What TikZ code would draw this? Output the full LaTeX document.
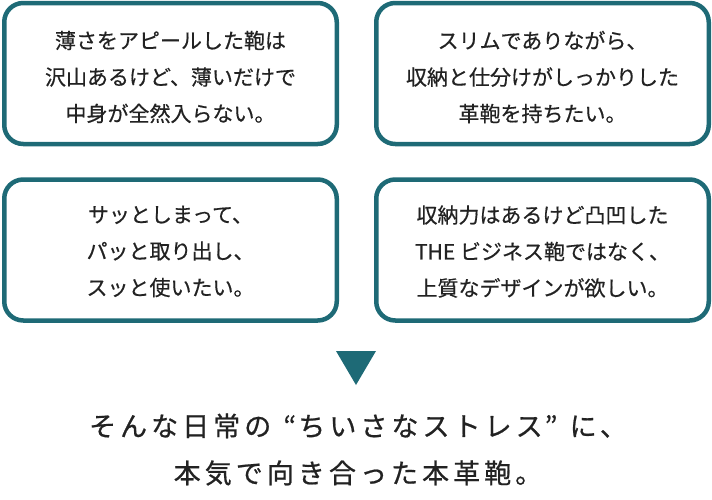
\documentclass[tikz,border=0pt]{standalone}
\usepackage{fontspec}
\setmainfont{Noto Sans CJK JP}
\newfontfamily\boxfont[FakeBold=0.5]{Noto Sans CJK JP}
\newfontfamily\leadfont[LetterSpace=15,FakeBold=0.7]{Noto Sans CJK JP}
\definecolor{tealline}{RGB}{30,106,118}
\definecolor{ink}{RGB}{34,34,34}
\newcommand\openq{\makebox[27pt][r]{“\hspace{2pt}}}
\newcommand\closeq{\makebox[27pt][l]{\hspace{2pt}”}}
\begin{document}
\begin{tikzpicture}[x=1pt,y=-1pt,
  card/.style={draw=tealline, line width=4.5pt, rounded corners=19pt,
    minimum width=332.5pt, minimum height=141pt, inner sep=0pt},
  cardtext/.style={align=center, text=ink, inner sep=0pt,
    font=\boxfont\fontsize{21pt}{36.5pt}\selectfont},
  lead/.style={align=center, text=ink, inner sep=0pt,
    font=\leadfont\fontsize{27pt}{47pt}\selectfont}]
\useasboundingbox (0,0) rectangle (712,499);
\node[card] (c1) at (170.5,73.5) {};
\node[card] (c2) at (542.5,73.5) {};
\node[card] (c3) at (170.5,250) {};
\node[card] (c4) at (542.5,250) {};
\node[cardtext] (t1) at ([yshift=-3.5pt]c1.center) {薄さをアピールした鞄は\\沢山あるけど、薄いだけで\\中身が全然入らない。};
\node[cardtext] (t2) at ([yshift=-3.5pt]c2.center) {スリムでありながら、\\収納と仕分けがしっかりした\\革鞄を持ちたい。};
\node[cardtext] (t3) at ([yshift=-1.5pt]c3.center) {サッとしまって、\\パッと取り出し、\\スッと使いたい。};
\node[cardtext] (t4) at ([yshift=-1.5pt]c4.center) {収納力はあるけど凸凹した\\THE ビジネス鞄ではなく、\\上質なデザインが欲しい。};
\fill[tealline] (336,351) -- (376,351) -- (356,385) -- cycle;
\node[lead] (msg) at (358,449.5) {そんな日常の\openq ちいさなストレス\closeq に、\\本気で向き合った本革鞄。};
\end{tikzpicture}
\end{document}
